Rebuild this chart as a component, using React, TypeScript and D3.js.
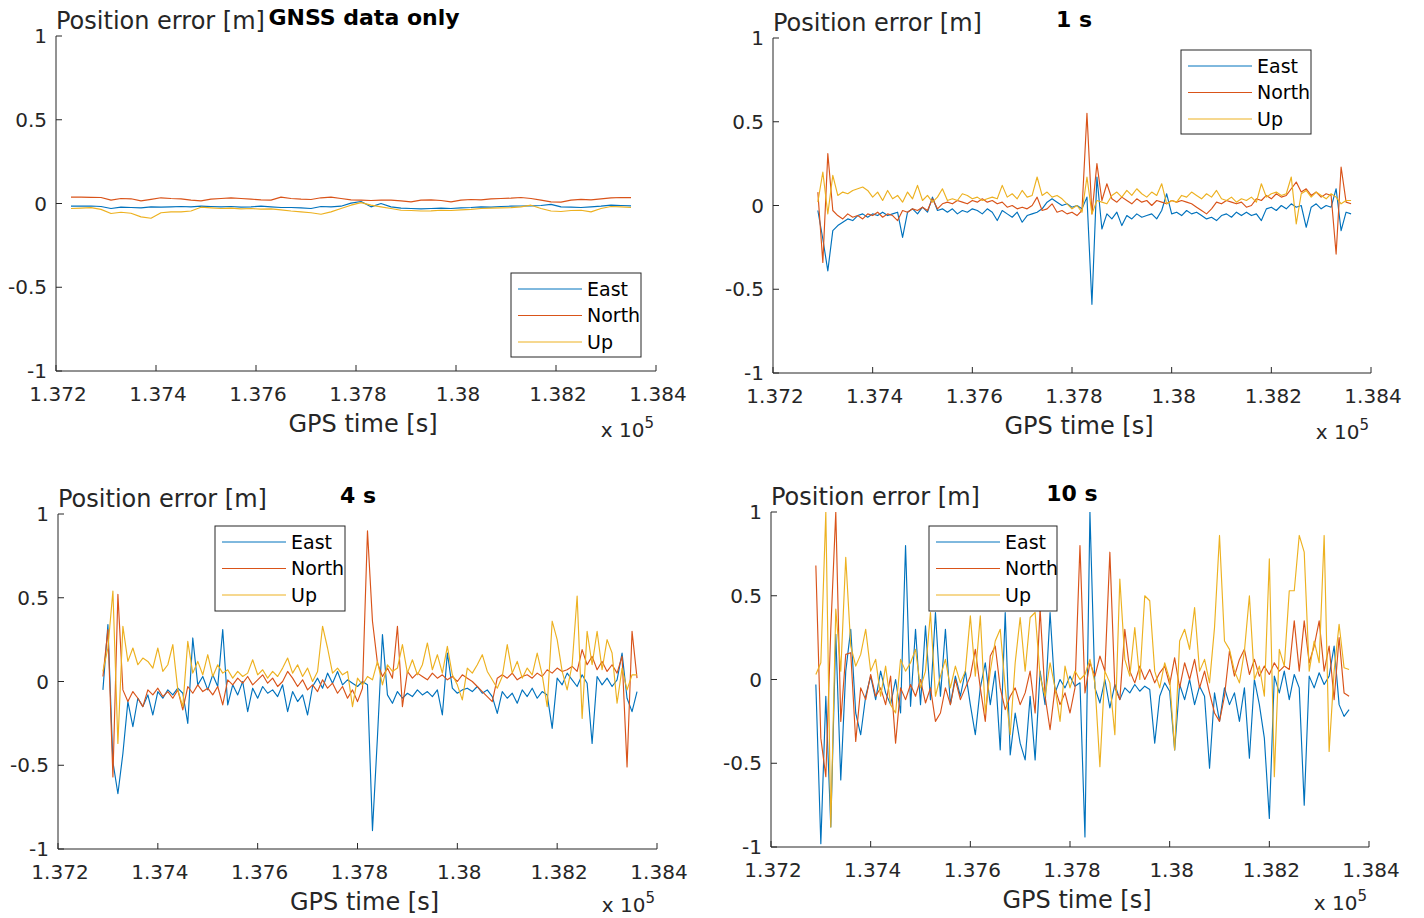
import React from 'react';
import * as d3 from 'd3';

// ---------- shared axis data ----------
const X_TICKS = [137200, 137400, 137600, 137800, 138000, 138200, 138400];
const X_TICK_LABELS = ['1.372', '1.374', '1.376', '1.378', '1.38', '1.382', '1.384'];
const Y_TICKS = [-1, -0.5, 0, 0.5, 1];
const Y_TICK_LABELS = ['-1', '-0.5', '0', '0.5', '1'];
const SERIES_NAMES = ['East', 'North', 'Up'];
const TITLES = ['GNSS data only', '1 s', '4 s', '10 s'];
const Y_LABEL = 'Position error [m]';
const X_LABEL = 'GPS time [s]';

// sampling of the series (GPS time, s)
const P1_T_START = 137230;
const P1_T_STEP = 20;
const T_START = 137290;
const T_STEP = 10;

// ---------- GNSS data only ----------
const p1East = [
  -0.016, -0.016, -0.015, -0.018, -0.03, -0.022, -0.024, -0.026, -0.02, -0.022,
  -0.02, -0.018, -0.02, -0.016, -0.018, -0.02, -0.018, -0.022, -0.02, -0.016,
  -0.02, -0.024, -0.024, -0.026, -0.03, -0.018, -0.02, -0.016, 0.002, 0.012,
  -0.02, 0.0, -0.02, -0.028, -0.03, -0.032, -0.03, -0.028, -0.03, -0.026,
  -0.024, -0.02, -0.022, -0.018, -0.016, -0.015, -0.014, -0.012, -0.005, -0.02,
  -0.022, -0.024, -0.02, -0.016, -0.01, -0.012, -0.014,
];
const p1North = [
  0.038, 0.038, 0.037, 0.036, 0.02, 0.03, 0.028, 0.016, 0.025, 0.034,
  0.03, 0.028, 0.02, 0.016, 0.026, 0.03, 0.034, 0.03, 0.026, 0.022,
  0.02, 0.038, 0.03, 0.026, 0.024, 0.034, 0.038, 0.03, 0.022, 0.02,
  0.018, 0.02, 0.02, 0.016, 0.01, 0.02, 0.022, 0.018, 0.01, 0.02,
  0.024, 0.022, 0.028, 0.03, 0.032, 0.036, 0.03, 0.02, 0.01, 0.008,
  0.02, 0.025, 0.022, 0.028, 0.034, 0.036, 0.035,
];
const p1Up = [
  -0.03, -0.028, -0.025, -0.035, -0.06, -0.052, -0.058, -0.08, -0.088, -0.055,
  -0.05, -0.05, -0.045, -0.022, -0.026, -0.03, -0.028, -0.032, -0.03, -0.034,
  -0.032, -0.038, -0.045, -0.05, -0.055, -0.064, -0.05, -0.03, -0.01, 0.005,
  -0.01, -0.02, -0.03, -0.04, -0.042, -0.045, -0.044, -0.04, -0.042, -0.038,
  -0.035, -0.03, -0.028, -0.026, -0.025, -0.02, -0.01, -0.03, -0.045, -0.048,
  -0.042, -0.04, -0.05, -0.03, -0.018, -0.02, -0.024,
];

// ---------- 1 s ----------
const p2East = [
  -0.03, -0.2, -0.39, -0.15, -0.12, -0.1, -0.08, -0.09, -0.06, -0.05,
  -0.07, -0.05, -0.06, -0.04, -0.06, -0.05, -0.04, -0.19, -0.04, -0.02,
  -0.05, -0.01, -0.04, 0.05, -0.03, -0.02, -0.04, -0.02, -0.05, -0.03,
  -0.04, -0.02, -0.03, -0.05, -0.02, -0.04, -0.09, -0.03, -0.05, -0.07,
  -0.04, -0.1, -0.06, -0.05, -0.04, -0.02, 0.02, 0.04, 0.02, 0.0,
  0.01, -0.01, 0.0, -0.02, 0.05, -0.59, 0.17, -0.14, -0.05, -0.08,
  -0.04, -0.12, -0.06, -0.08, -0.05, -0.07, -0.06, -0.05, -0.08, -0.03,
  0.07, -0.05, -0.04, -0.06, -0.03, -0.05, -0.04, -0.06, -0.08, -0.07,
  -0.09, -0.06, -0.05, -0.07, -0.04, -0.06, -0.04, -0.06, -0.05, -0.09,
  -0.02, -0.01, -0.03, 0.0, -0.02, 0.01, -0.01, 0.0, -0.13, -0.01,
  0.01, -0.02, 0.0, -0.01, 0.1, -0.15, -0.04, -0.05,
];
const p2North = [
  0.08, -0.34, 0.31, -0.03, -0.06, -0.08, -0.05, -0.07, -0.06, -0.08,
  -0.05, -0.06, -0.04, -0.07, -0.05, -0.06, -0.09, -0.03, -0.04, -0.02,
  -0.03, -0.01, -0.03, 0.04, -0.02, 0.01, 0.02, 0.01, 0.03, 0.02,
  0.01, 0.03, 0.02, 0.04, 0.02, 0.03, 0.01, 0.02, -0.01, 0.0,
  -0.02, -0.01, -0.02, 0.0, 0.05, -0.03, -0.02, 0.01, -0.04, -0.03,
  -0.05, -0.04, -0.06, -0.03, 0.55, -0.05, 0.25, 0.03, 0.13, 0.04,
  0.02, 0.05, 0.03, 0.01, 0.04, 0.02, 0.03, 0.0, 0.03, 0.02,
  0.01, 0.03, 0.02, 0.03, 0.02, 0.01, -0.01, -0.03, -0.05, -0.02,
  0.02, 0.01, 0.03, 0.02, 0.01, 0.02, -0.01, 0.0, 0.04, 0.03,
  0.06, 0.04, 0.07, 0.05, 0.06, 0.1, 0.14, 0.08, 0.1, 0.06,
  0.08, 0.05, 0.07, 0.06, -0.29, 0.23, 0.02, 0.01,
];
const p2Up = [
  0.02, 0.2, -0.05, 0.18, 0.06, 0.08, 0.07, 0.09, 0.1, 0.11,
  0.09, 0.05, 0.08, 0.03, 0.09, 0.04, 0.06, 0.02, 0.08, 0.04,
  0.12, 0.03, 0.06, 0.02, 0.05, 0.1, 0.03, 0.04, 0.03, 0.07,
  0.06, 0.04, 0.05, 0.03, 0.04, 0.05, 0.04, 0.12, 0.05, 0.07,
  0.04, 0.09, 0.05, 0.06, 0.17, 0.06, 0.08, 0.05, 0.06, 0.04,
  0.01, -0.02, 0.0, -0.04, 0.17, -0.05, 0.03, 0.02, 0.01, 0.06,
  0.08, 0.05, 0.09, 0.06, 0.1, 0.07, 0.05, 0.08, 0.06, 0.13,
  0.01, 0.03, 0.02, 0.06, 0.05, 0.08, 0.06, 0.04, 0.07, 0.05,
  0.09, 0.04, 0.03, 0.05, 0.02, 0.04, 0.03, 0.05, 0.02, 0.13,
  0.05, 0.07, 0.08, 0.06, 0.07, 0.17, -0.11, 0.07, 0.09, 0.05,
  0.08, 0.06, 0.04, 0.07, 0.05, 0.01, 0.03, 0.03,
];

// ---------- 4 s ----------
const p3East = [
  -0.05, 0.34, -0.48, -0.67, -0.43, -0.12, -0.27, -0.1, -0.15, -0.08,
  -0.2, -0.06, -0.1, -0.05, -0.08, -0.04, -0.07, -0.25, 0.26, -0.02,
  0.03, -0.05, 0.04, -0.03, 0.31, -0.14, -0.02, -0.08, 0.0, -0.18,
  -0.04, -0.1, -0.03, -0.07, -0.05, -0.09, -0.02, -0.18, -0.06, -0.12,
  -0.08, -0.2, -0.03, 0.02, -0.04, 0.05, -0.01, 0.06, -0.02, 0.01,
  -0.01, -0.03, 0.0, -0.02, -0.89, -0.33, 0.28, -0.08, -0.13, -0.06,
  -0.1, -0.07, -0.09, -0.05, -0.08, -0.06, -0.09, -0.05, -0.2, 0.17,
  -0.04, -0.07, -0.05, -0.04, -0.06, -0.03, -0.07, -0.05, -0.09, -0.19,
  -0.06, -0.1, -0.07, -0.13, -0.05, -0.09, -0.04, -0.1, -0.06, -0.08,
  -0.28, 0.02, -0.02, 0.05, 0.01, -0.03, 0.04, -0.01, -0.37, 0.03,
  -0.02, 0.02, -0.03, 0.01, 0.17, -0.1, -0.18, -0.06,
];
const p3North = [
  0.03, 0.31, -0.57, 0.52, -0.05, -0.12, -0.06, -0.1, -0.15, -0.05,
  -0.08, -0.04, -0.09, -0.06, -0.1, -0.05, -0.17, -0.03, -0.07, -0.02,
  -0.06, -0.04, -0.08, -0.03, -0.14, 0.01, -0.02, 0.02, -0.01, 0.03,
  -0.02, 0.01, 0.04, -0.01, 0.02, -0.03, 0.0, 0.06, 0.02, -0.03,
  0.01, -0.05, -0.02, -0.06, 0.01, -0.04, -0.01, -0.07, -0.03, -0.1,
  -0.05, -0.12, -0.04, 0.9, 0.36, 0.11, 0.03, 0.08, 0.02, 0.33,
  -0.15, 0.06, 0.02, 0.05, 0.03, 0.01, 0.05, 0.02, 0.04, 0.01,
  0.03, 0.0, 0.04, 0.02, 0.0, -0.03, -0.06, -0.09, -0.12, 0.02,
  0.04, 0.02, 0.05, 0.01, 0.03, 0.04, 0.02, 0.05, 0.03, 0.07,
  0.05, 0.08, 0.06, 0.07, 0.09, 0.06, 0.19, 0.1, 0.15, 0.07,
  0.12, 0.06, 0.1, 0.05, 0.15, -0.51, 0.3, 0.02,
];
const p3Up = [
  0.06, 0.2, 0.54, -0.37, 0.33, 0.12, 0.2, 0.1, 0.14, 0.12,
  0.08, 0.2, 0.06, 0.1, 0.22, -0.05, -0.15, 0.24, 0.05, 0.12,
  0.04, 0.16, 0.03, 0.1, 0.05, 0.07, 0.02, 0.06, 0.03, 0.05,
  0.13, 0.04, 0.07, 0.02, 0.06, 0.03, 0.08, 0.14, 0.05, 0.1,
  0.03, 0.08, 0.0, 0.06, 0.33, 0.2, 0.05, 0.08, 0.04, 0.06,
  -0.15, 0.02, -0.02, 0.03, 0.01, 0.12, -0.02, 0.1, 0.06, 0.08,
  0.22, 0.05, 0.13, 0.04, 0.1, 0.23, 0.07, 0.16, 0.05, 0.21,
  0.04, -0.02, -0.11, 0.08, 0.05, 0.1, 0.16, 0.06, 0.01, -0.04,
  0.03, 0.22, 0.05, 0.12, 0.02, 0.08, 0.04, 0.17, 0.04, -0.15,
  0.36, 0.25, 0.06, -0.05, 0.1, 0.51, -0.22, 0.3, 0.1, 0.3,
  0.07, 0.25, 0.17, -0.13, 0.08, -0.05, 0.04, 0.04,
];

// ---------- 10 s ----------
const p4East = [
  -0.03, -0.98, -0.1, -0.88, 0.27, -0.6, 0.05, 0.3, -0.2, -0.33,
  -0.1, 0.02, -0.12, 0.05, -0.08, -0.15, 0.0, -0.2, 0.8, -0.16,
  0.3, -0.15, 0.32, -0.12, 0.4, -0.1, 0.3, -0.15, 0.02, -0.1,
  0.05, -0.15, -0.33, -0.05, 0.1, -0.15, 0.05, -0.42, 0.4, -0.45,
  -0.2, -0.38, -0.48, -0.1, -0.48, 0.05, -0.15, 0.4, -0.08, 0.0,
  -0.05, 0.02, -0.04, -0.02, -0.94, 1.0, -0.05, -0.14, 0.0, -0.17,
  -0.03, -0.12, -0.05, -0.08, -0.03, -0.07, -0.04, -0.06, -0.38, -0.1,
  -0.02, -0.07, -0.42, -0.03, -0.12, 0.0, -0.15, -0.04, -0.1, -0.53,
  -0.08, -0.25, -0.05, -0.15, -0.08, -0.25, -0.05, -0.47, 0.0, -0.15,
  -0.35, -0.83, 0.02, -0.08, 0.05, -0.12, 0.03, -0.05, -0.75, 0.02,
  -0.05, 0.04, -0.03, 0.02, 0.2, -0.15, -0.22, -0.18,
];
const p4North = [
  0.68, -0.35, -0.58, 0.3, 1.0, -0.25, 0.15, 0.16, -0.37, -0.05,
  -0.12, 0.03, -0.1, -0.05, -0.15, 0.02, -0.38, -0.05, -0.12, -0.03,
  -0.1, 0.0, -0.14, -0.05, -0.25, -0.2, -0.05, -0.15, 0.0, -0.12,
  -0.05, 0.02, 0.18, -0.05, -0.25, 0.14, 0.2, -0.05, -0.18, -0.1,
  -0.05, -0.15, -0.08, 0.05, -0.2, 0.42, -0.1, -0.3, -0.05, -0.15,
  -0.08, -0.2, -0.05, 0.8, -0.08, 0.1, 0.02, 0.14, 0.05, 0.76,
  -0.05, -0.12, 0.3, 0.05, -0.02, 0.08, 0.0, 0.06, -0.02, 0.04,
  0.08, -0.03, 0.13, -0.05, 0.1, 0.0, 0.12, -0.05, 0.05, -0.08,
  -0.2, -0.25, -0.1, 0.17, 0.02, 0.12, 0.18, 0.03, 0.12, 0.02,
  0.08, 0.03, 0.1, 0.05, 0.08, 0.06, 0.35, 0.05, 0.35, 0.1,
  0.2, 0.35, 0.05, 0.2, -0.12, 0.25, -0.08, -0.1,
];
const p4Up = [
  0.03, 0.1, 1.0, -0.88, 0.42, 0.05, 0.73, 0.2, 0.08, 0.15,
  0.3, 0.05, 0.12, -0.1, 0.08, -0.15, -0.2, 0.12, 0.05, 0.1,
  0.18, -0.05, 0.05, 0.4, -0.1, 0.02, 0.12, -0.05, 0.08, -0.02,
  0.05, 0.38, 0.02, 0.38, -0.2, 0.05, 0.23, 0.3, -0.05, -0.33,
  0.1, 0.37, 0.05, 0.37, 0.4, 0.02, -0.1, 0.1, -0.05, -0.25,
  0.08, -0.05, 0.05, 0.0, 0.03, 0.12, -0.02, -0.52, 0.05, -0.02,
  -0.33, 0.6, 0.12, 0.02, 0.31, 0.0, 0.5, 0.47, 0.05, -0.05,
  0.1, 0.0, -0.42, 0.23, 0.3, 0.18, 0.43, 0.05, 0.12, -0.02,
  0.31, 0.86, 0.23, 0.18, 0.05, -0.02, 0.17, 0.5, 0.0, 0.08,
  -0.1, 0.72, -0.58, 0.18, 0.08, 0.53, 0.53, 0.86, 0.76, 0.05,
  0.23, 0.1, 0.86, -0.43, 0.05, 0.33, 0.07, 0.06,
];

// ---------- styling / layout ----------
const COLORS = ['#0072BD', '#D95319', '#EDB120'];
const AXIS_COLOR = '#262626';
const FONT = '"DejaVu Sans", Verdana, sans-serif';

type Layout = {
  left: number; right: number; top: number; bottom: number;
  titleX: number; expDy: number; legend: { x: number; y: number; w: number; h: number };
};

const LAYOUTS: Layout[] = [
  { left: 56, right: 656, top: 36, bottom: 371, titleX: 364, expDy: 66, legend: { x: 511, y: 273, w: 130, h: 84 } },
  { left: 773, right: 1371, top: 38, bottom: 373, titleX: 1074, expDy: 66, legend: { x: 1181, y: 50, w: 130, h: 84 } },
  { left: 58, right: 657, top: 514, bottom: 849, titleX: 358, expDy: 63, legend: { x: 215, y: 526, w: 130, h: 85 } },
  { left: 771, right: 1369, top: 512, bottom: 847, titleX: 1072, expDy: 63, legend: { x: 929, y: 526, w: 128, h: 85 } },
];

const PANEL_SERIES = [
  { start: P1_T_START, step: P1_T_STEP, series: [p1East, p1North, p1Up] },
  { start: T_START, step: T_STEP, series: [p2East, p2North, p2Up] },
  { start: T_START, step: T_STEP, series: [p3East, p3North, p3Up] },
  { start: T_START, step: T_STEP, series: [p4East, p4North, p4Up] },
];

function Panel({ idx }: { idx: number }) {
  const L = LAYOUTS[idx];
  const P = PANEL_SERIES[idx];
  const x = d3.scaleLinear().domain([137200, 138400]).range([L.left, L.right]);
  const y = d3.scaleLinear().domain([-1, 1]).range([L.bottom, L.top]);
  const line = d3
    .line<number>()
    .x((_, i) => x(P.start + i * P.step))
    .y((v) => y(v));
  const clipId = `clip-${idx}`;
  const cx = (L.left + L.right) / 2;
  const lg = L.legend;
  return (
    <g>
      <defs>
        <clipPath id={clipId}>
          <rect x={L.left} y={L.top} width={L.right - L.left} height={L.bottom - L.top} />
        </clipPath>
      </defs>
      <g clipPath={`url(#${clipId})`}>
        {P.series.map((s, k) => (
          <path key={k} d={line(s) || ''} fill="none" stroke={COLORS[k]} strokeWidth={1.15} strokeLinejoin="round" />
        ))}
      </g>
      {/* axes */}
      <line x1={L.left} x2={L.left} y1={L.top} y2={L.bottom} stroke={AXIS_COLOR} strokeWidth={1} />
      <line x1={L.left} x2={L.right} y1={L.bottom} y2={L.bottom} stroke={AXIS_COLOR} strokeWidth={1} />
      {Y_TICKS.map((t, i) => (
        <g key={`y${i}`}>
          <line x1={L.left} x2={L.left + 6} y1={y(t)} y2={y(t)} stroke={AXIS_COLOR} strokeWidth={1} />
          <text x={L.left - 9} y={y(t)} dy="0.36em" textAnchor="end" fontSize={20} fill={AXIS_COLOR} fontFamily={FONT}>
            {Y_TICK_LABELS[i]}
          </text>
        </g>
      ))}
      {X_TICKS.map((t, i) => (
        <g key={`x${i}`}>
          <line x1={x(t)} x2={x(t)} y1={L.bottom} y2={L.bottom - 6} stroke={AXIS_COLOR} strokeWidth={1} />
          <text x={x(t) + 2} y={L.bottom + 30} textAnchor="middle" fontSize={20} fill={AXIS_COLOR} fontFamily={FONT}>
            {X_TICK_LABELS[i]}
          </text>
        </g>
      ))}
      <text x={L.left} y={L.top - 7} fontSize={24} fill={AXIS_COLOR} fontFamily={FONT}>
        {Y_LABEL}
      </text>
      <text x={L.titleX} y={L.top - 11} textAnchor="middle" fontSize={22} fontWeight="bold" fill="#000" fontFamily={FONT}>
        {TITLES[idx]}
      </text>
      <text x={cx + 7} y={L.bottom + 61} textAnchor="middle" fontSize={24} fill={AXIS_COLOR} fontFamily={FONT}>
        {X_LABEL}
      </text>
      <text x={L.right - 2} y={L.bottom + L.expDy} textAnchor="end" fontSize={20} fill={AXIS_COLOR} fontFamily={FONT}>
        <tspan>x 10</tspan>
        <tspan dy={-9} fontSize={15}>5</tspan>
      </text>
      {/* legend */}
      <rect x={lg.x} y={lg.y} width={lg.w} height={lg.h} fill="#fff" stroke={AXIS_COLOR} strokeWidth={1} />
      {SERIES_NAMES.map((n, k) => {
        const ly = lg.y + 16 + k * 26.5;
        return (
          <g key={n}>
            <line x1={lg.x + 7} x2={lg.x + 71} y1={ly} y2={ly} stroke={COLORS[k]} strokeWidth={1} />
            <text x={lg.x + 76} y={ly} dy="0.36em" fontSize={19} fill="#000" fontFamily={FONT}>
              {n}
            </text>
          </g>
        );
      })}
    </g>
  );
}

export default function App() {
  return (
    <svg width={1424} height={918} style={{ position: 'absolute', left: 0, top: 0, background: '#fff' }}>
      <rect x={0} y={0} width={1424} height={918} fill="#fff" />
      {[0, 1, 2, 3].map((i) => (
        <Panel key={i} idx={i} />
      ))}
    </svg>
  );
}
